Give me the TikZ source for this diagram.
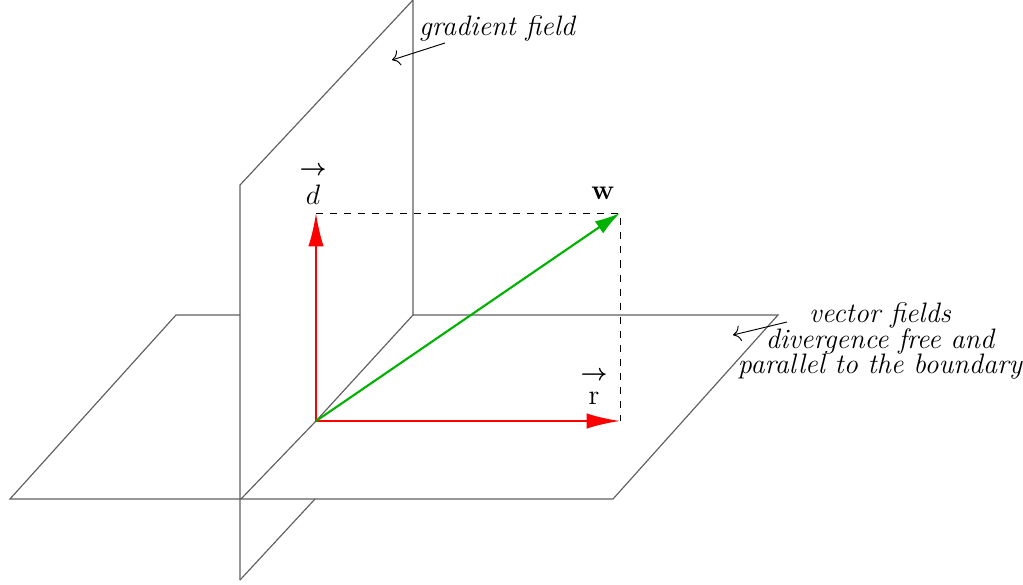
\documentclass[tikz,border=0pt]{standalone}
\usepackage{bm}
\usetikzlibrary{arrows.meta}

\begin{document}
\begin{tikzpicture}[x=0.15mm, y=-0.15mm,
    plane/.style={gray!75!black, line width=0.5pt},
    vecline/.style={line width=0.9pt, -{Latex[length=5mm,width=2.3mm]}},
    guide/.style={dashed, line width=0.4pt},
    note/.style={font=\large\itshape},
    pointer/.style={line width=0.4pt, -{To[scale=1.3]}}]
    \useasboundingbox (0,0) rectangle (1023,585);

    % Define the corners of the horizontal plane
    \coordinate (P1) at (10,499);
    \coordinate (P2) at (613,499);
    \coordinate (P3) at (778,315);
    \coordinate (P4) at (176,315);

    % Define the corners of the vertical plane
    \coordinate (V1) at (240,580);
    \coordinate (V2) at (240,185);
    \coordinate (V3) at (413,0);
    \coordinate (V4) at (413,315);
    \coordinate (V5) at (241,499);
    \coordinate (V6) at (315,499);
    \coordinate (V7) at (240,315);

    % Define the vector end points
    \coordinate (O) at (316,421);
    \coordinate (D) at (316,213);
    \coordinate (R) at (620,421);
    \coordinate (W) at (620,213);

    % Draw the visible edges of the planes
    \draw[plane] (V7) -- (P4) -- (P1) -- (P2) -- (P3) -- (V4); % horizontal plane
    \draw[plane] (V1) -- (V2) -- (V3) -- (V4) -- (O) -- (V5); % vertical plane
    \draw[plane] (V1) -- (V6);

    % Dashed projections of w
    \draw[guide] (D) -- (W) -- (R);

    % Draw the vectors
    \draw[vecline, red] (O) -- (D);
    \draw[vecline, red] (O) -- (R);
    \draw[vecline, green!70!black, -{Latex[length=3.8mm,width=2.2mm]}] (O) -- (W);

    % Place the vector labels
    \node[inner sep=1pt] (dlabel) at (313,185) {\shortstack{$\bm{\rightarrow}$\\[1pt]\large$d$}};
    \node (wlabel) at (603,193) {\large$\mathbf{w}$};
    \node[inner sep=1pt] (rlabel) at (594,388) {\shortstack{$\bm{\rightarrow}$\\[2pt]\large$\mathrm{r}$}};

    % Notes with pointers
    \node[note] (grad) at (497,28) {gradient field};
    \coordinate (gtail) at (445,43);
    \coordinate (gtip) at (392,60);
    \draw[pointer] (gtail) -- (gtip);

    \node[note, align=center] (fields) at (880,341) {vector fields\\[-3pt]divergence free and\\[-3pt]parallel to the boundary};
    \coordinate (ftail) at (787,322);
    \coordinate (ftip) at (733,335);
    \draw[pointer] (ftail) -- (ftip);
\end{tikzpicture}
\end{document}
